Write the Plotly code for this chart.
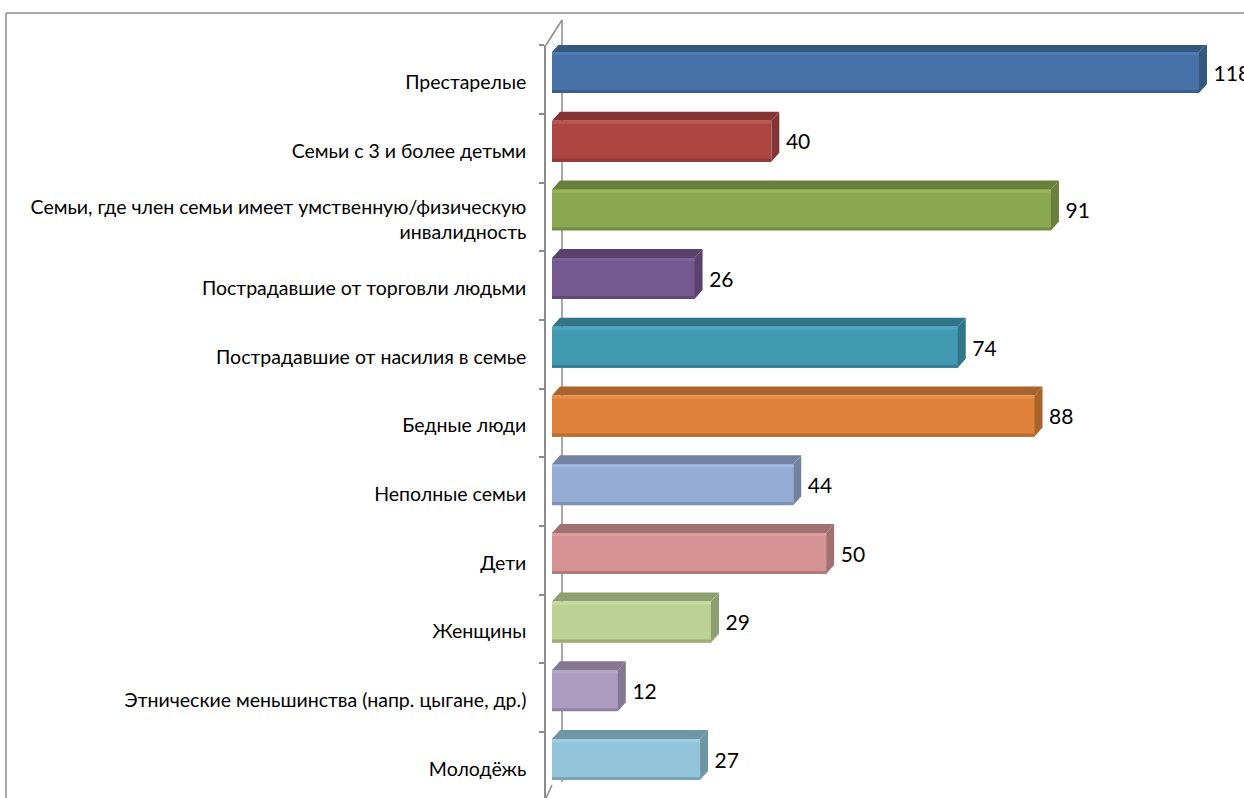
import plotly.graph_objects as go

categories = ["Престарелые", "Семьи с 3 и более детьми",
              "Семьи, где член семьи имеет умственную/физическую<br>инвалидность",
              "Пострадавшие от торговли людьми", "Пострадавшие от насилия в семье",
              "Бедные люди", "Неполные семьи", "Дети", "Женщины",
              "Этнические меньшинства (напр. цыгане, др.)", "Молодёжь"]
values = [118, 40, 91, 26, 74, 88, 44, 50, 29, 12, 27]
front = ["#4672A8", "#AD4643", "#8AA84F", "#75588F", "#4299B2", "#DE823B",
         "#95ADD4", "#D49392", "#BDD195", "#AC9DC0", "#92C5D9"]
shade = ["#35587F", "#843533", "#69803C", "#59436D", "#327488", "#A9632D",
         "#7183A1", "#A17070", "#909F71", "#837792", "#6F96A5"]
light = ["#4F7DB5", "#BC5451", "#97B659", "#7F619A", "#4CA6C0", "#EA8D47",
         "#A1B9E0", "#DF9E9D", "#C7DBA0", "#B6A7CA", "#9ED0E4"]
dark = ["#3A5F8C", "#8F3A38", "#728B41", "#614977", "#377F94", "#B86C31",
        "#7C8FB0", "#B07A79", "#9CAD7B", "#8F82A0", "#7AA3B4"]

W, H = 1244, 798
PX_PER_UNIT = 5.483
ROW = 68.7
X0, PLOT_L, PLOT_T = 552, 546, 45
LABEL0 = 82
TOP0 = 52
BAR_H = 41
DEPTH_X, DEPTH_Y = 8, 9

dx = DEPTH_X / PX_PER_UNIT
dy = DEPTH_Y / ROW
offset = (TOP0 - LABEL0) / ROW
width = BAR_H / ROW
strip = 3 / ROW
pos = list(range(len(values)))

fig = go.Figure()


def poly(xs, ys, color):
    fig.add_trace(go.Scatter(x=xs, y=ys, mode="lines", fill="toself", fillcolor=color,
                             line=dict(width=0, color=color), hoverinfo="skip",
                             showlegend=False, cliponaxis=False))


fig.add_trace(go.Bar(y=pos, x=values, orientation="h", width=width, offset=offset,
                     marker=dict(color=front, line=dict(width=0)),
                     cliponaxis=False, showlegend=False, hoverinfo="x+y"))

for p, v, c, s, l, d in zip(pos, values, front, shade, light, dark):
    t = p + offset
    b = t + width
    poly([0, dx, v + dx, v, 0], [t, t - dy, t - dy, t, t], s)
    poly([v, v + dx, v + dx, v, v], [t, t - dy, b - dy, b, t], s)
    poly([0, v, v, 0, 0], [t, t, t + strip, t + strip, t], l)
    poly([0, v, v, 0, 0], [b - strip, b - strip, b, b, b - strip], d)

fig.add_trace(go.Scatter(x=[v + dx + 1.2 for v in values],
                         y=[p + offset + width / 2 + 3 / ROW for p in pos],
                         mode="text", text=[str(v) for v in values],
                         textposition="middle right",
                         textfont=dict(family="Lato", size=21, color="#000000"),
                         cliponaxis=False, showlegend=False, hoverinfo="skip"))

grey = "#8C8C8C"


def px_line(x0, y0, x1, y1, w=1.5, layer="below"):
    return dict(type="line", xref="paper", yref="paper", layer=layer,
                x0=(x0 - PLOT_L) / (W - PLOT_L), x1=(x1 - PLOT_L) / (W - PLOT_L),
                y0=1 - (y0 - PLOT_T) / (H - PLOT_T), y1=1 - (y1 - PLOT_T) / (H - PLOT_T),
                line=dict(color=grey, width=w))


shapes = [px_line(562, 20, 562, 782), px_line(546, 45, 562, 20),
          px_line(546, 798, 552, 785), px_line(6, 13, W, 13), px_line(6, 13, 6, H)]

fig.update_layout(
    width=W, height=H, autosize=False,
    margin=dict(l=PLOT_L, r=0, t=PLOT_T, b=0, pad=0),
    paper_bgcolor="#FFFFFF", plot_bgcolor="rgba(0,0,0,0)",
    showlegend=False, shapes=shapes,
    bargap=0,
    xaxis=dict(range=[(PLOT_L - X0) / PX_PER_UNIT, (W - X0) / PX_PER_UNIT],
               visible=False, fixedrange=True),
    yaxis=dict(range=[(H - LABEL0) / ROW, (PLOT_T - LABEL0) / ROW],
               tickmode="array", tickvals=pos, ticktext=categories,
               ticks="", showgrid=False, zeroline=False,
               showline=True, linecolor=grey, linewidth=1.5,
               ticklabelstandoff=14,
               tickfont=dict(family="Lato", size=19.5, color="#000000"),
               minor=dict(tickmode="array", tickvals=[p - 0.537 for p in pos],
                          ticks="outside", ticklen=5, tickcolor=grey, tickwidth=1.5,
                          showgrid=False),
               fixedrange=True),
)
fig.write_html("out.html", config={"displayModeBar": False},
               post_script="document.body.style.margin='0';document.documentElement.style.overflow='hidden';")
